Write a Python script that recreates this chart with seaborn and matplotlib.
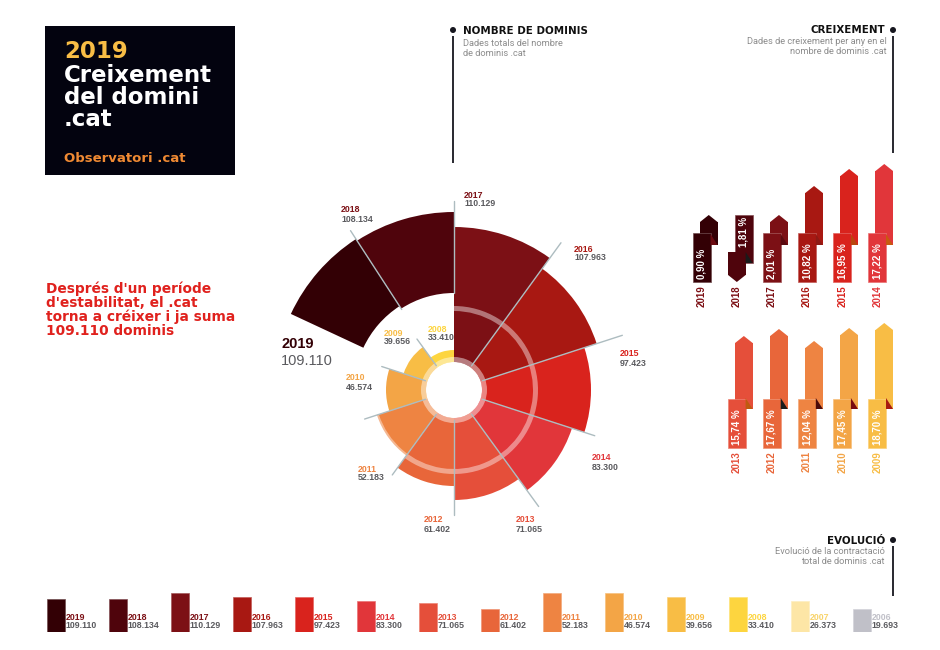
import numpy as np
import pandas as pd
import matplotlib
matplotlib.use('Agg')
import matplotlib.pyplot as plt
from matplotlib.colors import to_rgb
from matplotlib.patches import Rectangle, Circle
import seaborn as sns

# domain counts per year
years = [2019, 2018, 2017, 2016, 2015, 2014, 2013, 2012, 2011, 2010, 2009, 2008, 2007, 2006]
domains = [109110, 108134, 110129, 107963, 97423, 83300, 71065, 61402, 52183, 46574, 39656, 33410, 26373, 19693]
colors = ['#330005', '#4f040c', '#7c1015', '#a81812', '#d9231d', '#e1363a', '#e54f3a',
          '#e8663a', '#ee8442', '#f3a546', '#f8bd45', '#fdd53f', '#fde6a6', '#c0c0c8']
# bar heights in the bottom strip
strip_heights = [33, 33, 39, 35, 35, 31, 29, 23, 39, 39, 35, 35, 31, 23]

# rose slices 2017 to 2008, outer radius
rose_years = [2017, 2016, 2015, 2014, 2013, 2012, 2011, 2010, 2009, 2008]
rose_radius = [163, 150, 137, 124, 110, 96, 81, 68, 53, 40]
spoke_length = [182, 177, 148, 144, 125, 105, 94, 76, 63, 189]

# growth arrows
upper_years = [2019, 2018, 2017, 2016, 2015, 2014]
upper_growth = [0.90, 1.81, 2.01, 10.82, 16.95, 17.22]
upper_arrow = [23, 48, 23, 52, 69, 74]
upper_fold = ['#6a0a10', '#1a1a1a', '#5a0a10', '#8f1a14', '#b8470f', '#c85a10']
lower_years = [2013, 2012, 2011, 2010, 2009]
lower_growth = [15.74, 17.67, 12.04, 17.45, 18.70]
lower_arrow = [66, 73, 61, 74, 79]
lower_fold = ['#c05a10', '#1a1a1a', '#4a0a0a', '#7a0a10', '#a81a10']

palette = dict(zip(years, colors))
counts = dict(zip(years, domains))

sns.set_theme(style='white')
plt.rcParams['font.family'] = ['DejaVu Sans']
NARROW = 'Liberation Sans'
GREY = '#5a5a5e'
SPOKE = '#adbcc0'
W, H = 940, 650


def fmt(v):
    return f'{v:,}'.replace(',', '.')


def pale(c, amount=0.3):
    return tuple(x + (1 - x) * amount for x in to_rgb(c))


def year_color(yr):
    if yr >= 2017:
        return palette[2017]
    if yr == 2007:
        return '#f8d36a'
    return palette[yr]


def px_axes(left, top, right, bottom, **kw):
    ax = fig.add_axes([left / W, 1 - bottom / H, (right - left) / W, (bottom - top) / H], **kw)
    ax.patch.set_alpha(0)
    return ax


fig = plt.figure(figsize=(W / 100, H / 100), dpi=100, facecolor='white')

# page layer for the text blocks
page = px_axes(0, 0, W, H)
page.set_xlim(0, W)
page.set_ylim(H, 0)
page.axis('off')

page.add_patch(Rectangle((45, 26), 190, 149, color='#03030f', lw=0))
for y, line, c in [(52, '2019', '#f8bd45'), (75, 'Creixement', 'white'),
                   (97, 'del domini', 'white'), (120, '.cat', 'white')]:
    page.text(64, y, line, color=c, fontsize=16.5, fontweight='bold', va='center')
page.text(64, 158, 'Observatori .cat', color='#f08a33', fontsize=9.5, fontweight='bold', va='center')

for i, line in enumerate(['Després d\'un període', 'd\'estabilitat, el .cat',
                          'torna a créixer i ja suma', '109.110 dominis']):
    page.text(46, 289 + 14 * i, line, color='#e0211d', fontsize=9.9, fontweight='bold', va='center')

# section headers
for x, y0, y1 in [(453, 36, 163), (893, 36, 153), (893, 546, 596)]:
    page.plot([x, x], [y0, y1], color='#17171f', lw=1.3, solid_capstyle='butt')
    page.add_patch(Circle((x, y0 - 6), 3, color='#17171f', lw=0))

page.text(463, 31, 'NOMBRE DE DOMINIS', fontsize=7.4, fontweight='bold', va='center', color='#111111')
page.text(885, 30, 'CREIXEMENT', fontsize=7.4, fontweight='bold', va='center', ha='right', color='#111111')
page.text(885, 541, 'EVOLUCIÓ', fontsize=7.4, fontweight='bold', va='center', ha='right', color='#111111')
for x, y, s, ha in [(463, 43, 'Dades totals del nombre', 'left'), (463, 54, 'de dominis .cat', 'left'),
                    (887, 41, 'Dades de creixement per any en el', 'right'),
                    (887, 52, 'nombre de dominis .cat', 'right'),
                    (885, 551, 'Evolució de la contractació', 'right'),
                    (885, 562, 'total de dominis .cat', 'right')]:
    page.text(x, y, s, fontsize=6.7, color='#8c8c8c', va='center', ha=ha, family='Roboto')

# rose chart, one radial unit is one pixel
rose = px_axes(254, 190, 654, 590, projection='polar')
rose.set_theta_zero_location('N')
rose.set_theta_direction(-1)
rose.set_ylim(0, 200)
rose.axis('off')

hole = 28
starts = np.arange(len(rose_years)) * 36
for yr, start, r in zip(rose_years, starts, rose_radius):
    rose.bar(np.deg2rad(start), r - hole, width=np.deg2rad(36), bottom=hole, align='edge',
             color=palette[yr], lw=0, zorder=2)
rose.bar(np.deg2rad(327), 178 - 97, width=np.deg2rad(33), bottom=97, align='edge',
         color=palette[2018], lw=0, zorder=2)
rose.bar(np.deg2rad(295), 180 - 100, width=np.deg2rad(32), bottom=100, align='edge',
         color=palette[2019], lw=0, zorder=2)

# translucent rings
rose.bar(0, 5, width=np.deg2rad(252), bottom=79, align='edge', color='white', alpha=0.42, lw=0, zorder=3)
rose.bar(0, 5, width=2 * np.pi, bottom=28, align='edge', color='white', alpha=0.45, lw=0, zorder=3)

# spokes
for start, length in zip(starts, spoke_length):
    a = np.deg2rad(start + 36)
    inner = 97 if start + 36 == 360 else 30
    rose.plot([a, a], [inner, length], color=SPOKE, lw=1, zorder=4)
a = np.deg2rad(327)
rose.plot([a, a], [96, 190], color=SPOKE, lw=1, zorder=4)

# rose labels
rose_labels = [(2017, 464, 195), (2018, 341, 210), (2016, 574, 249), (2015, 620, 354),
               (2014, 592, 458), (2013, 516, 520), (2012, 424, 520), (2011, 358, 469),
               (2010, 346, 378), (2009, 384, 333), (2008, 428, 329)]
for yr, x, y in rose_labels:
    page.text(x, y, str(yr), color=year_color(yr), fontsize=6.3, fontweight='bold', va='center', family=NARROW)
    page.text(x, y + 9, fmt(counts[yr]), color=GREY, fontsize=6.3, fontweight='bold', va='center', family=NARROW)
page.text(281, 344, '2019', color=palette[2019], fontsize=10.5, fontweight='bold', va='center', family=NARROW)
page.text(281, 361, fmt(counts[2019]), color=GREY, fontsize=10.5, va='center', family=NARROW)


def growth_panel(ax, panel_years, growth, arrows, folds, slots, base_top):
    # tab and arrow sit side by side around each category slot
    ax.set_xlim(-0.5, 5.5)
    ax.axis('off')
    w, shift = 0.5, 0.1
    for slot, yr, g, h, fold in zip(slots, panel_years, growth, arrows, folds):
        c = palette[yr]
        edge = pale(c)
        tab_x, body_x = slot - shift, slot + shift
        txt = f'{g:.2f}'.replace('.', ',') + ' %'
        if yr == 2018:
            # the only arrow pointing down
            ax.bar(body_x, h, width=w, bottom=-18, color=c, edgecolor=edge, lw=0.5, zorder=2)
            ax.bar(tab_x, 23, width=w, bottom=-30, color=c, lw=0, zorder=3)
            ax.fill([tab_x - w / 2, tab_x, tab_x + w / 2], [-30, -37, -30], color=c, lw=0, zorder=3)
            ax.fill([tab_x + w / 2, tab_x + w / 2, body_x + w / 2], [-18, -7, -18], color=fold, lw=0, zorder=4)
            ax.text(body_x, -2, txt, color='white', rotation=90, ha='center', va='bottom',
                    fontsize=7, fontweight='bold', family=NARROW, zorder=5)
        else:
            ax.bar(body_x, h, width=w, color=c, lw=0, zorder=2)
            ax.fill([body_x - w / 2, body_x, body_x + w / 2], [h, h + 7, h], color=c, lw=0, zorder=2)
            ax.bar(tab_x, 49, width=w, bottom=base_top - 49, color=c, edgecolor=edge, lw=0.5, zorder=3)
            ax.fill([tab_x + w / 2, tab_x + w / 2, body_x + w / 2], [0, 11, 0], color=fold, lw=0, zorder=4)
            ax.text(tab_x, base_top - 46, txt, color='white', rotation=90, ha='center', va='bottom',
                    fontsize=7, fontweight='bold', family=NARROW, zorder=5)
        ax.text(tab_x, base_top - 52, str(yr), color=year_color(yr), rotation=90, ha='center', va='top',
                fontsize=7, fontweight='bold', family=NARROW)


# one y unit is one pixel, zero is the foot of the arrow body
upper = px_axes(687.7, 150, 898.3, 310)
upper.set_ylim(245 - 310, 245 - 150)
growth_panel(upper, upper_years, upper_growth, upper_arrow, upper_fold, range(6), 12)

lower = px_axes(687.7, 315, 898.3, 475)
lower.set_ylim(409 - 475, 409 - 315)
growth_panel(lower, lower_years, lower_growth, lower_arrow, lower_fold, range(1, 6), 10)

# bottom strip
strip = px_axes(25, 582, 893, 632)
df = pd.DataFrame({'year': [str(y) for y in years], 'height': strip_heights})
sns.barplot(data=df, x='year', y='height', hue='year', palette=dict(zip(df['year'], colors)),
            width=0.285, saturation=1, legend=False, linewidth=0, ax=strip)
for patch, c in zip(strip.patches, colors):
    patch.set_edgecolor(pale(c))
    patch.set_linewidth(0.5)
strip.set_ylim(0, 50)
strip.set_xlim(-0.5, 13.5)
strip.axis('off')
for i, yr in enumerate(years):
    label_c = '#c0c0c8' if yr == 2006 else year_color(yr)
    strip.text(i + 0.16, 15, str(yr), color=label_c, fontsize=6.3, fontweight='bold', va='center',
               family=NARROW, clip_on=False)
    strip.text(i + 0.16, 6, fmt(counts[yr]), color=GREY, fontsize=6.3,
               fontweight='bold', va='center', family=NARROW, clip_on=False)

fig.savefig('out.png', dpi=100)
